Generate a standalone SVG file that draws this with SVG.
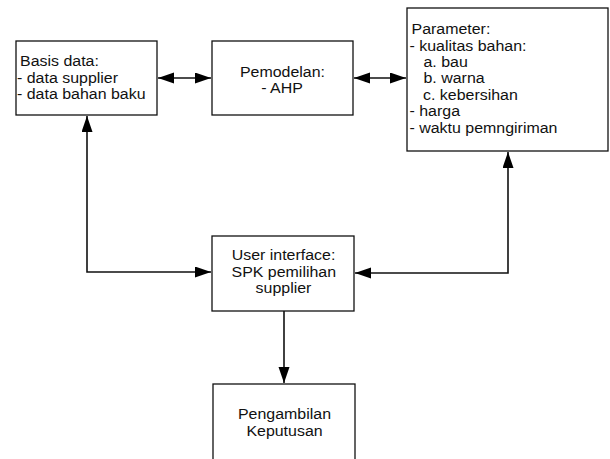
<svg xmlns="http://www.w3.org/2000/svg" width="610" height="459" viewBox="0 0 610 459">
<style>
.box{fill:#fff;stroke:#111;stroke-width:1.3}
.t{font-family:"Liberation Sans",Arial,sans-serif;font-size:14.5px;fill:#111}
.c{text-anchor:middle}
.con{fill:none;stroke:#111;stroke-width:1.6}
</style>
<defs>
<marker id="ah" markerUnits="userSpaceOnUse" markerWidth="17" markerHeight="12" refX="16" refY="5.5" orient="auto-start-reverse" viewBox="0 0 17 12">
<path d="M0,0 L16,5.5 L0,11 z" fill="#000"/>
</marker>
</defs>
<rect width="610" height="459" fill="#fff"/>
<g id="connectors">
<path class="con" d="M158,78 L211,78" marker-start="url(#ah)" marker-end="url(#ah)"/>
<path class="con" d="M354,78 L406,78" marker-start="url(#ah)" marker-end="url(#ah)"/>
<path class="con" d="M211,272 L87,272 L87,116" marker-start="url(#ah)" marker-end="url(#ah)"/>
<path class="con" d="M355,273 L508,273 L508,152" marker-start="url(#ah)" marker-end="url(#ah)"/>
<path class="con" d="M284,311 L284,383" marker-end="url(#ah)"/>
</g>
<g id="basis-data">
<rect class="box" x="16" y="41" width="141" height="74"/>
<text class="t" transform="translate(20,66) scale(1.1,1)">Basis data:</text>
<text class="t" transform="translate(17,82.7) scale(1.1,1)">- data supplier</text>
<text class="t" transform="translate(17,99.3) scale(1.1,1)">- data bahan baku</text>
</g>
<g id="pemodelan">
<rect class="box" x="212" y="41" width="141" height="74"/>
<text class="t c" transform="translate(282.5,76.5) scale(1.1,1)">Pemodelan:</text>
<text class="t c" transform="translate(282,93.2) scale(1.1,1)">- AHP</text>
</g>
<g id="parameter">
<rect class="box" x="407" y="8" width="201" height="143"/>
<text class="t" transform="translate(411.5,34.3) scale(1.1,1)">Parameter:</text>
<text class="t" transform="translate(409.5,50.7) scale(1.1,1)">- kualitas bahan:</text>
<text class="t" transform="translate(423.5,67) scale(1.1,1)">a. bau</text>
<text class="t" transform="translate(423.5,83.4) scale(1.1,1)">b. warna</text>
<text class="t" transform="translate(423,99.8) scale(1.1,1)">c. kebersihan</text>
<text class="t" transform="translate(409.5,116.2) scale(1.1,1)">- harga</text>
<text class="t" transform="translate(409.5,132.6) scale(1.1,1)">- waktu pemngiriman</text>
</g>
<g id="user-interface">
<rect class="box" x="212" y="236" width="142" height="75"/>
<text class="t c" transform="translate(283.5,260.2) scale(1.1,1)">User interface:</text>
<text class="t c" transform="translate(283.8,276.7) scale(1.1,1)">SPK pemilihan</text>
<text class="t c" transform="translate(283.5,293.2) scale(1.1,1)">supplier</text>
</g>
<g id="pengambilan-keputusan">
<rect class="box" x="213" y="384" width="142" height="82"/>
<text class="t c" transform="translate(284.5,419) scale(1.1,1)">Pengambilan</text>
<text class="t c" transform="translate(284.5,435.5) scale(1.1,1)">Keputusan</text>
</g>
</svg>
